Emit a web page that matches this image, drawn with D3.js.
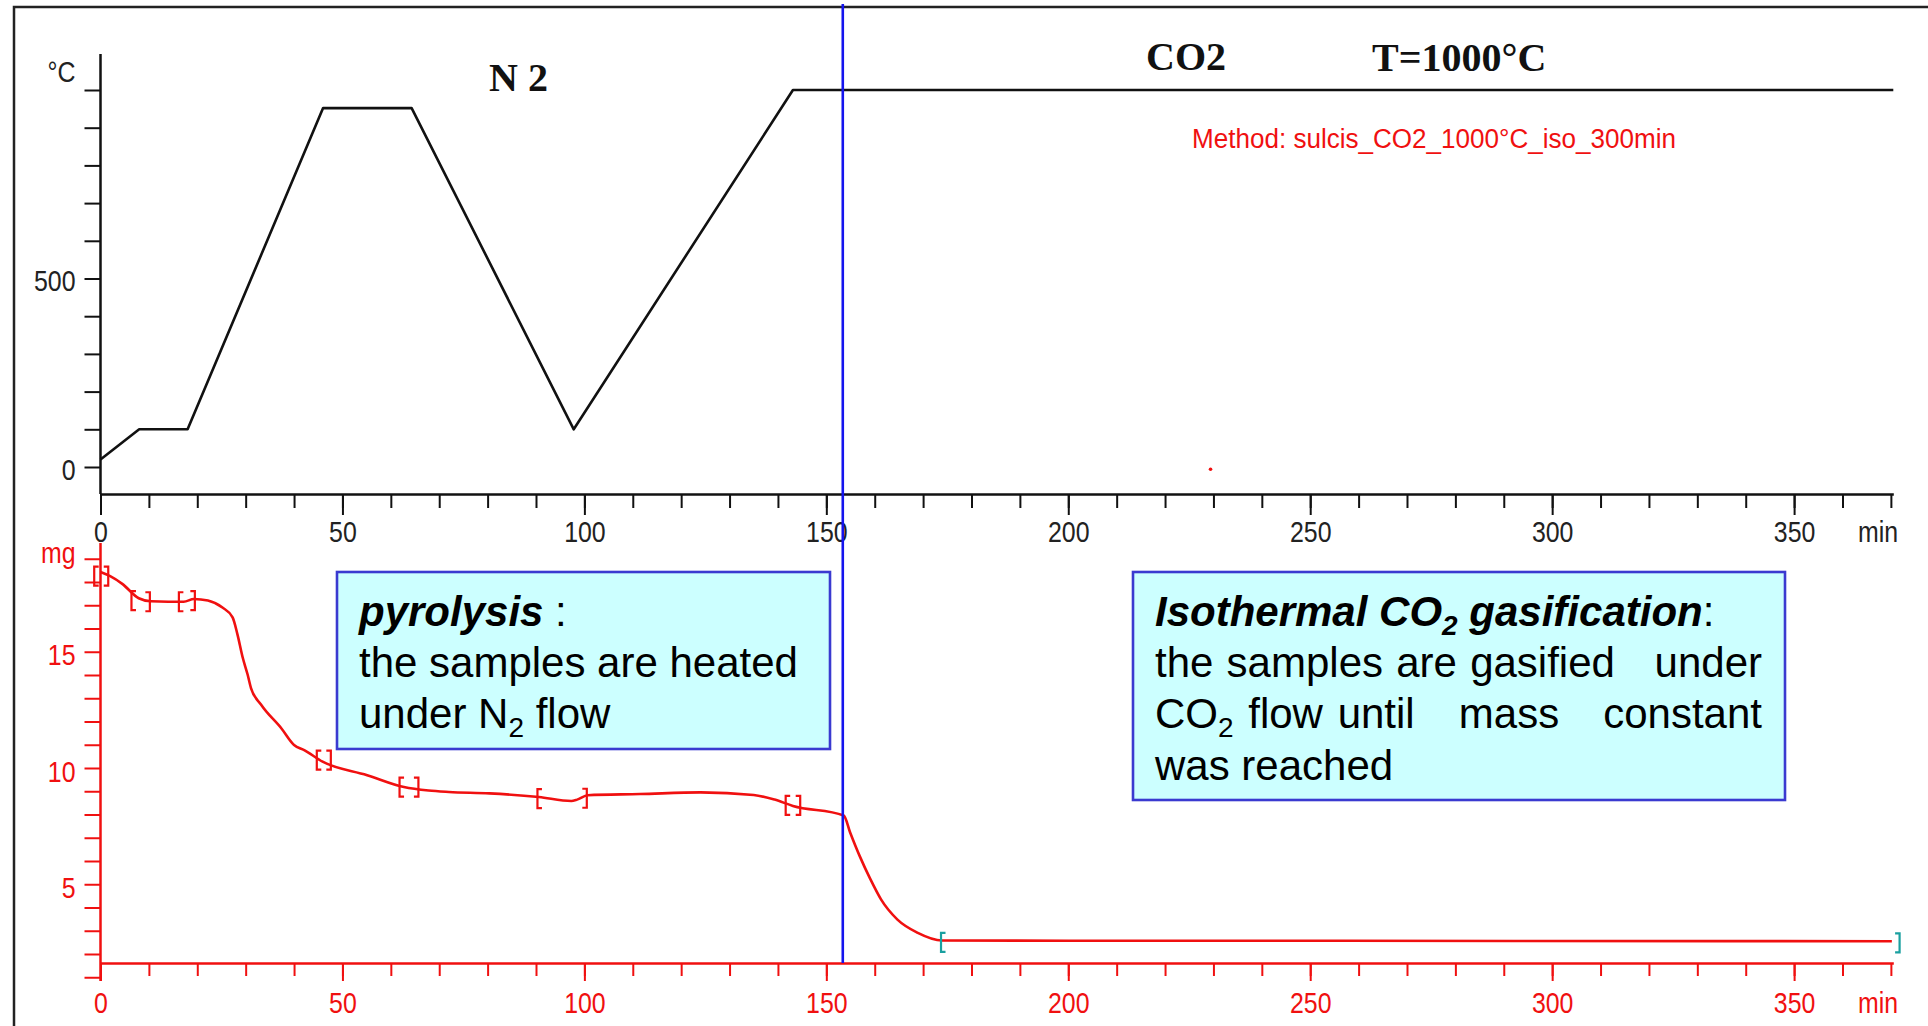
<!DOCTYPE html>
<html>
<head>
<meta charset="utf-8">
<script src="https://cdn.jsdelivr.net/npm/d3@7"></script>
<style>
  body { margin: 0; background: #fff; }
  svg { display: block; }
</style>
</head>
<body>
<script>
// temperature program, top panel (min, °C)
const tempTime  = [0, 8, 18, 46, 64.3, 97.8, 143.1, 370.5];
const tempValue = [20, 100, 100, 952, 952, 100, 1000, 1000];

// stray red point in the top panel
const dotTime  = [229.4];
const dotValue = [-6];

// TG mass curve, bottom panel (min, mg)
const massTime  = [0, 2, 4.5, 7.9, 10.4, 14, 17.2, 19.3, 22.2, 25.2, 27.3, 28.3, 29.4, 30.4, 31.1, 33.2, 37.4, 40, 42.1, 45.9, 55.1, 62.7, 67.8, 72, 80.4, 90.6, 97.3, 98.5, 100.7, 111.5, 124, 135, 139.3, 143.1, 153.6, 154.9, 156.9, 159.1, 161.3, 164.7, 168.9, 173.9, 200, 250, 292, 370.2];
const massValue = [18.43, 18.25, 17.92, 17.3, 17.17, 17.15, 17.15, 17.27, 17.2, 16.9, 16.48, 15.75, 14.74, 14.02, 13.44, 12.72, 11.7, 10.99, 10.77, 10.27, 9.69, 9.18, 9.03, 8.97, 8.91, 8.75, 8.58, 8.64, 8.83, 8.88, 8.95, 8.84, 8.64, 8.37, 7.96, 7.24, 6.21, 5.22, 4.35, 3.48, 2.91, 2.58, 2.57, 2.57, 2.56, 2.55];

// step evaluation limits (red) and result limits (teal)
const stepTime = [-1.3, 1.6, 6.4, 10.2, 16.2, 19.5, 44.7, 47.6, 61.8, 65.7, 90.3, 100.5, 141.6, 144.6];
const stepMass = [18.25, 18.25, 17.2, 17.15, 17.15, 17.2, 10.34, 10.34, 9.18, 9.18, 8.68, 8.7, 8.39, 8.39];
const stepSide = ["[", "]", "[", "]", "[", "]", "[", "]", "[", "]", "[", "]", "[", "]"];
const resultTime = [173.7, 371.8];
const resultMass = [2.5, 2.48];
const resultSide = ["[", "]"];

// gas switch N2 -> CO2
const switchTime = 153.4;

// ticks
const xTicks     = d3.range(0, 371, 10);
const xLabels    = [0, 50, 100, 150, 200, 250, 300, 350];
const tempTicks  = d3.range(0, 1001, 100);
const tempLabels = [0, 500];
const massTicks  = d3.range(1, 20);
const massLabels = [5, 10, 15];

const W = 1928, H = 1026;
const arial = "'Liberation Sans', Arial, sans-serif";
const serif = "'Liberation Serif', 'Times New Roman', serif";
const red = "#f01010";
const squeeze = 0.83;   // instrument font is a narrow one
const lblSize = 30;

const svg = d3.select("body").append("svg")
    .attr("width", W)
    .attr("height", H);

// slide frame (right and bottom run off the picture)
svg.append("rect")
    .attr("x", 14).attr("y", 7)
    .attr("width", W + 20).attr("height", H + 20)
    .attr("fill", "none")
    .attr("stroke", "#222")
    .attr("stroke-width", 2.5);

// scales
const x  = d3.scaleLinear().domain([0, 370.5]).range([100.5, 1893.3]);
const yT = d3.scaleLinear().domain([0, 1000]).range([467, 90]);
const yB = d3.scaleLinear().domain([0, 20]).range([1000.5, 535.5]);

const topAxisY = 494;
const botAxisY = 963;

function narrowLabel(g, tx, ty, txt, color, anchor) {
    g.append("text")
        .attr("transform", `translate(${tx},${ty}) scale(${squeeze},1)`)
        .attr("text-anchor", anchor || "start")
        .attr("font-family", arial).attr("font-size", lblSize).attr("fill", color)
        .text(txt);
}

// ---------- top panel axes ----------
const gTopX = svg.append("g")
    .attr("transform", `translate(0,${topAxisY})`)
    .attr("color", "#111");
gTopX.call(d3.axisBottom(x).tickValues(xTicks).tickSize(14).tickSizeOuter(0).tickFormat(""));
gTopX.append("g").call(d3.axisBottom(x).tickValues(xLabels).tickSize(21).tickSizeOuter(0))
    .call(g => g.select(".domain").remove());
gTopX.selectAll("path.domain").attr("stroke-width", 2.5);
gTopX.selectAll(".tick line").attr("stroke-width", 2);
gTopX.selectAll(".tick text")
    .attr("y", 48).attr("dy", null)
    .attr("transform", `scale(${squeeze},1)`)
    .attr("font-family", arial).attr("font-size", lblSize).attr("fill", "#222");
narrowLabel(gTopX, 1858, 48, "min", "#222");

const gTopY = svg.append("g")
    .attr("transform", `translate(${x(0)},0)`)
    .attr("color", "#111");
gTopY.call(d3.axisLeft(yT).tickValues(tempTicks).tickSize(16).tickPadding(9)
    .tickFormat(d => tempLabels.includes(d) ? d : ""))
    .call(g => g.select(".domain").remove());
gTopY.selectAll(".tick line").attr("stroke-width", 2);
gTopY.selectAll(".tick text")
    .attr("x", -25 / squeeze)
    .attr("transform", `scale(${squeeze},1)`)
    .attr("font-family", arial).attr("font-size", lblSize).attr("fill", "#222").attr("dy", "0.4em");
gTopY.append("line")
    .attr("y1", 54).attr("y2", topAxisY)
    .attr("stroke", "#111").attr("stroke-width", 2.5);
narrowLabel(gTopY, -25, 82, "°C", "#222", "end");

// temperature program
const tempLine = d3.line()
    .x((d, i) => x(tempTime[i]))
    .y(d => yT(d));
svg.append("path")
    .datum(tempValue)
    .attr("fill", "none")
    .attr("stroke", "#111")
    .attr("stroke-width", 2.6)
    .attr("stroke-linejoin", "round")
    .attr("d", tempLine);

svg.selectAll(".dot")
    .data(dotTime)
    .enter().append("circle")
    .attr("cx", d => x(d))
    .attr("cy", (d, i) => yT(dotValue[i]))
    .attr("r", 1.8)
    .attr("fill", red);

// panel titles
svg.append("text").attr("x", 489).attr("y", 91)
    .attr("font-family", serif).attr("font-weight", "bold").attr("font-size", 40)
    .attr("fill", "#111").text("N 2");
svg.append("text").attr("x", 1146).attr("y", 70)
    .attr("font-family", serif).attr("font-weight", "bold").attr("font-size", 40)
    .attr("fill", "#111").text("CO2");
svg.append("text").attr("x", 1372).attr("y", 71)
    .attr("font-family", serif).attr("font-weight", "bold").attr("font-size", 40)
    .attr("fill", "#111").text("T=1000°C");
svg.append("text").attr("x", 1192).attr("y", 148)
    .attr("font-family", arial).attr("font-size", 27)
    .attr("textLength", 484).attr("lengthAdjust", "spacingAndGlyphs")
    .attr("fill", red).text("Method: sulcis_CO2_1000°C_iso_300min");

// ---------- bottom panel axes ----------
const gBotX = svg.append("g")
    .attr("transform", `translate(0,${botAxisY})`)
    .attr("color", red);
gBotX.call(d3.axisBottom(x).tickValues(xTicks).tickSize(13).tickSizeOuter(0).tickFormat(""));
gBotX.append("g").call(d3.axisBottom(x).tickValues(xLabels).tickSize(18).tickSizeOuter(0))
    .call(g => g.select(".domain").remove());
gBotX.selectAll("path.domain").attr("stroke-width", 2.5);
gBotX.selectAll(".tick line").attr("stroke-width", 2);
gBotX.selectAll(".tick text")
    .attr("y", 50).attr("dy", null)
    .attr("transform", `scale(${squeeze},1)`)
    .attr("font-family", arial).attr("font-size", lblSize).attr("fill", red);
narrowLabel(gBotX, 1858, 50, "min", red);

const gBotY = svg.append("g")
    .attr("transform", `translate(${x(0)},0)`)
    .attr("color", red);
gBotY.call(d3.axisLeft(yB).tickValues(massTicks).tickSize(16).tickPadding(9)
    .tickFormat(d => massLabels.includes(d) ? d : ""))
    .call(g => g.select(".domain").remove());
gBotY.selectAll(".tick line").attr("stroke-width", 2);
gBotY.selectAll(".tick text")
    .attr("x", -25 / squeeze)
    .attr("transform", `scale(${squeeze},1)`)
    .attr("font-family", arial).attr("font-size", lblSize).attr("fill", red).attr("dy", "0.44em");
gBotY.append("line")
    .attr("y1", 543).attr("y2", 981)
    .attr("stroke", red).attr("stroke-width", 2.5);
narrowLabel(gBotY, -25, 563, "mg", red, "end");

// mass curve
const massLine = d3.line()
    .x((d, i) => x(massTime[i]))
    .y(d => yB(d))
    .curve(d3.curveMonotoneX);
svg.append("path")
    .datum(massValue)
    .attr("fill", "none")
    .attr("stroke", red)
    .attr("stroke-width", 2.6)
    .attr("d", massLine);

// evaluation brackets
function bracket(t, m, side) {
    const bx = x(t), by = yB(m), s = side === "[" ? 4.5 : -4.5;
    return `M${bx + s},${by - 9.5}H${bx}V${by + 9.5}H${bx + s}`;
}
svg.selectAll(".step")
    .data(stepTime)
    .enter().append("path")
    .attr("d", (d, i) => bracket(d, stepMass[i], stepSide[i]))
    .attr("fill", "none").attr("stroke", red).attr("stroke-width", 2.2);
svg.selectAll(".result")
    .data(resultTime)
    .enter().append("path")
    .attr("d", (d, i) => bracket(d, resultMass[i], resultSide[i]))
    .attr("fill", "none").attr("stroke", "#1aa0a0").attr("stroke-width", 2.2);

// ---------- annotation boxes ----------
function box(x0, y0, x1, y1) {
    svg.append("rect")
        .attr("x", x0).attr("y", y0)
        .attr("width", x1 - x0).attr("height", y1 - y0)
        .attr("fill", "#ccffff")
        .attr("stroke", "#3a3ad0")
        .attr("stroke-width", 2.6);
}
const fs = 42;

box(337, 572, 830, 749);
const t1 = svg.append("text").attr("x", 359).attr("y", 626)
    .attr("font-family", arial).attr("font-size", fs).attr("fill", "#000");
t1.append("tspan").attr("font-weight", "bold").attr("font-style", "italic").text("pyrolysis");
t1.append("tspan").text(" :");
svg.append("text").attr("x", 359).attr("y", 677)
    .attr("font-family", arial).attr("font-size", fs).attr("fill", "#000")
    .text("the samples are heated");
const t3 = svg.append("text").attr("x", 359).attr("y", 728)
    .attr("font-family", arial).attr("font-size", fs).attr("fill", "#000");
t3.append("tspan").text("under N");
t3.append("tspan").attr("font-size", 28).attr("dy", 9).text("2");
t3.append("tspan").attr("dy", -9).text(" flow");

box(1133, 572, 1785, 800);
const b1 = svg.append("text").attr("x", 1155).attr("y", 626)
    .attr("font-family", arial).attr("font-size", fs).attr("fill", "#000");
b1.append("tspan").attr("font-weight", "bold").attr("font-style", "italic").text("Isothermal CO");
b1.append("tspan").attr("font-weight", "bold").attr("font-style", "italic")
    .attr("font-size", 28).attr("dy", 9).text("2");
b1.append("tspan").attr("font-weight", "bold").attr("font-style", "italic")
    .attr("dy", -9).text(" gasification");
b1.append("tspan").text(":");

// justified lines: words spread between left and right edge,
// gaps weighted by the number of spaces typed between the words
function justify(words, spaces, x0, x1, y) {
    const nodes = words.map(w => {
        const t = svg.append("text").attr("y", y)
            .attr("font-family", arial).attr("font-size", fs).attr("fill", "#000");
        w.forEach(p => {
            const s = t.append("tspan").text(p[0]);
            if (p[1] === "sub") s.attr("font-size", 28).attr("dy", 9);
        });
        return t;
    });
    const widths = nodes.map(n => n.node().getComputedTextLength());
    const unit = (x1 - x0 - d3.sum(widths)) / d3.sum(spaces);
    let cx = x0;
    nodes.forEach((n, i) => { n.attr("x", cx); cx += widths[i] + (spaces[i] || 0) * unit; });
}
justify([[["the"]], [["samples"]], [["are"]], [["gasified"]], [["under"]]], [1, 1, 1, 3], 1155, 1762, 677);
justify([[["CO"], ["2", "sub"]], [["flow"]], [["until"]], [["mass"]], [["constant"]]], [1, 1, 3, 3], 1155, 1762, 728);
svg.append("text").attr("x", 1155).attr("y", 780)
    .attr("font-family", arial).attr("font-size", fs).attr("fill", "#000")
    .text("was reached");

// gas switch marker
svg.append("line")
    .attr("x1", x(switchTime)).attr("x2", x(switchTime))
    .attr("y1", 4).attr("y2", botAxisY)
    .attr("stroke", "#1414ee")
    .attr("stroke-width", 2.6);
</script>
</body>
</html>
